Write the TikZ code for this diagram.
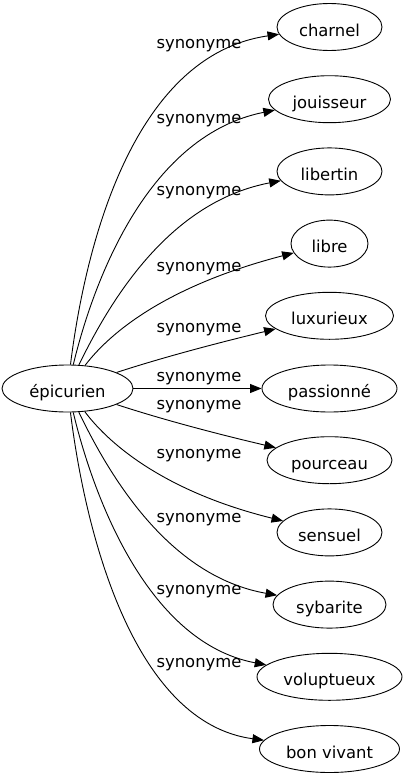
\documentclass[tikz,border=0pt]{standalone}
\usepackage{fontspec}
\setmainfont{DejaVu Sans}
\usetikzlibrary{shapes.geometric,arrows.meta}
\begin{document}
\begin{tikzpicture}[x=1pt,y=-1pt,
  every node/.style={font=\fontsize{16.4}{19}\selectfont},
  nd/.style={draw, ellipse, line width=0.9pt, minimum height=47pt, inner sep=0pt, text height=18pt, text depth=0pt},
  lbl/.style={anchor=base, inner sep=0pt},
  syn/.style={line width=0.9pt, -{Triangle[length=11.5pt,width=9pt]}}]
\useasboundingbox (0,0) rectangle (408,779);
\node[nd, minimum width=131pt] (epi) at (67.5,388.5) {épicurien};
\node[nd, minimum width=105pt] (n1) at (329.5,27) {charnel};
\node[nd, minimum width=122pt] (n2) at (329.5,99.2) {jouisseur};
\node[nd, minimum width=105pt] (n3) at (329.5,171.4) {libertin};
\node[nd, minimum width=77pt] (n4) at (329.5,243.6) {libre};
\node[nd, minimum width=128pt] (n5) at (329.5,315.8) {luxurieux};
\node[nd, minimum width=135pt] (n6) at (329.5,388.5) {passionné};
\node[nd, minimum width=125pt] (n7) at (329.5,460.2) {pourceau};
\node[nd, minimum width=105pt] (n8) at (329.5,532.4) {sensuel};
\node[nd, minimum width=113pt] (n9) at (329.5,604.6) {sybarite};
\node[nd, minimum width=145pt] (n10) at (329.5,676.8) {voluptueux};
\node[nd, minimum width=140pt] (n11) at (329.5,749) {bon vivant};

\draw[syn] (epi) .. controls (86,240) and (135,55) .. (n1);
\draw[syn] (epi) .. controls (95,275) and (150,135) .. (n2);
\draw[syn] (epi) .. controls (120,280) and (180,200) .. (n3);
\draw[syn] (epi) .. controls (112,330) and (170,285) .. (n4);
\draw[syn] (epi) .. controls (170,355) and (230,340) .. (n5);
\draw[syn] (epi) -- (n6);
\draw[syn] (epi) .. controls (170,422) and (230,437) .. (n7);
\draw[syn] (epi) .. controls (112,448) and (170,493) .. (n8);
\draw[syn] (epi) .. controls (120,498) and (180,578) .. (n9);
\draw[syn] (epi) .. controls (95,503) and (150,643) .. (n10);
\draw[syn] (epi) .. controls (86,538) and (135,723) .. (n11);

\node[lbl] (l1) at (199,48) {synonyme};
\node[lbl] (l2) at (199,123) {synonyme};
\node[lbl] (l3) at (199,195.5) {synonyme};
\node[lbl] (l4) at (199,271.5) {synonyme};
\node[lbl] (l5) at (199,332.5) {synonyme};
\node[lbl] (l6) at (199,381.5) {synonyme};
\node[lbl] (l7) at (199,409.5) {synonyme};
\node[lbl] (l8) at (199,458.5) {synonyme};
\node[lbl] (l9) at (199,522.5) {synonyme};
\node[lbl] (l10) at (199,594.5) {synonyme};
\node[lbl] (l11) at (199,667.5) {synonyme};
\end{tikzpicture}
\end{document}
